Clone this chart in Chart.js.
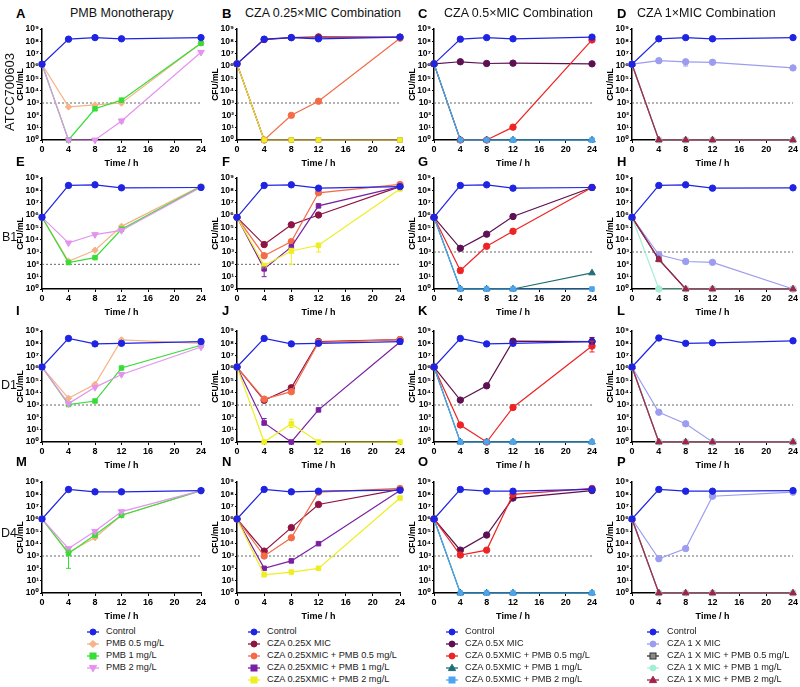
<!DOCTYPE html>
<html><head><meta charset="utf-8">
<script src="https://cdn.jsdelivr.net/npm/chart.js@4.4.0/dist/chart.umd.min.js"></script>
<style>
body{margin:0;background:#fff;width:800px;height:687px;position:relative;overflow:hidden;font-family:"Liberation Sans",Arial,sans-serif;}
.t{position:absolute;white-space:nowrap;color:#111;transform:translateY(-50%);line-height:1;}
canvas{position:absolute;}
svg{position:absolute;overflow:visible;}
</style></head><body>
<script>
// ---------- categories / labels ----------
const times = [0, 4, 8, 12, 24];
const xTicks = [0, 4, 8, 12, 16, 20, 24];
const yTicks = [1, 10, 100, 1e3, 1e4, 1e5, 1e6, 1e7, 1e8, 1e9];
const yTickLabels = ['10⁰','10¹','10²','10³','10⁴','10⁵','10⁶','10⁷','10⁸','10⁹'];
const rowLabels = ['ATCC700603', 'B1', 'D1', 'D4'];
const colTitles = ['PMB Monotherapy', 'CZA 0.25×MIC Combination', 'CZA 0.5×MIC Combination', 'CZA 1×MIC Combination'];
const panelLetters = ['A','B','C','D','E','F','G','H','I','J','K','L','M','N','O','P'];
const legendA = ['Control', 'PMB 0.5 mg/L', 'PMB 1 mg/L', 'PMB 2 mg/L'];
const legendB = ['Control', 'CZA 0.25X MIC', 'CZA 0.25XMIC + PMB 0.5 mg/L', 'CZA 0.25XMIC + PMB 1 mg/L', 'CZA 0.25XMIC + PMB 2 mg/L'];
const legendC = ['Control', 'CZA 0.5X MIC', 'CZA 0.5XMIC + PMB 0.5 mg/L', 'CZA 0.5XMIC + PMB 1 mg/L', 'CZA 0.5XMIC + PMB 2 mg/L'];
const legendD = ['Control', 'CZA 1 X MIC', 'CZA 1 X MIC + PMB 0.5 mg/L', 'CZA 1 X MIC + PMB 1 mg/L', 'CZA 1 X MIC + PMB 2 mg/L'];
const lodTop = [1e3, 1e3, 1e3, 1e3];
const lodRow2 = [1e2, 1e2, 1e3, 1e3];

// ---------- Row 1: ATCC700603 ----------
const A_ctrl  = [1.4e6, 1.5e8, 2e8, 1.6e8, 2e8];
const A_pmb05 = [1.4e6, 480, 700, 1000, 7e7];
const A_pmb1  = [1.4e6, 1, 340, 1.7e3, 7e7];
const A_pmb2  = [1.4e6, 1, 1, 35, 1.3e7];
const A_pmb2_err = [null, null, null, [25, 50], null];

const B_ctrl  = [1.5e6, 1.5e8, 2e8, 1.6e8, 2.2e8];
const B_cza   = [1.5e6, 1.4e8, 2e8, 2.3e8, 2.2e8];
const B_p05   = [1.5e6, 1, 100, 1.4e3, 1.8e8];
const B_p1    = [1.5e6, 1, 1, 1, 1];
const B_p2    = [1.5e6, 1, 1, 1, 1];

const C_ctrl  = [1.5e6, 1.5e8, 2e8, 1.6e8, 2.2e8];
const C_cza   = [1.5e6, 2.2e6, 1.6e6, 1.7e6, 1.5e6];
const C_p05   = [1.5e6, 1, 1, 11, 1.3e8];
const C_p1    = [1.5e6, 1, 1, 1, 1];
const C_p2    = [1.5e6, 1, 1, 1, 1];

const D_ctrl  = [1.4e6, 1.6e8, 2e8, 1.6e8, 2e8];
const D_cza   = [1.4e6, 2.7e6, 2.2e6, 2e6, 7e5];
const D_cza_err = [null, null, [1e6, 3e6], null, null];
const D_p05   = [1.4e6, 1, 1, 1, 1];
const D_p1    = [1.4e6, 1, 1, 1, 1];
const D_p2    = [1.4e6, 1, 1, 1, 1];

// ---------- Row 2: B1 ----------
const E_ctrl  = [6.5e5, 2.5e8, 2.8e8, 1.6e8, 1.7e8];
const E_pmb05 = [6.5e5, 180, 1.4e3, 1.2e5, 2.2e8];
const E_pmb1  = [6.5e5, 140, 350, 7e4, 2e8];
const E_pmb2  = [6.5e5, 5.5e3, 2.6e4, 5.6e4, 1.8e8];

const F_ctrl  = [6.5e5, 2.5e8, 2.8e8, 1.5e8, 2e8];
const F_cza   = [6.5e5, 4e3, 1.6e5, 1e6, 2e8];
const F_p05   = [6.5e5, 500, 7e3, 6.3e7, 3e8];
const F_p1    = [6.5e5, 43, 2.6e3, 5.5e6, 2e8];
const F_p1_err = [null, [10, 60], null, null, null];
const F_p2    = [6.5e5, 80, 1.2e3, 3.5e3, 1.3e8];
const F_p2_err = [null, null, [100, 2e3], [1e3, 5e3], null];

const G_ctrl  = [6.5e5, 2.5e8, 2.8e8, 1.5e8, 1.7e8];
const G_cza   = [6.5e5, 2e3, 2.8e4, 7.5e5, 1.7e8];
const G_p05   = [6.5e5, 32, 2.9e3, 4.8e4, 1.7e8];
const G_p05_err = [null, [20, 45], null, null, null];
const G_p1    = [6.5e5, 1, 1, 1, 20];
const G_p2    = [6.5e5, 1, 1, 1, 1];

const H_ctrl  = [6.5e5, 2.5e8, 2.8e8, 1.5e8, 1.6e8];
const H_cza   = [6.5e5, 600, 170, 145, 1];
const H_p05   = [6.5e5, 250, 1, 1, 1];
const H_p1    = [6.5e5, 1, 1, 1, 1];
const H_p2    = [6.5e5, 250, 1, 1, 1];

// ---------- Row 3: D1 ----------
const I_ctrl  = [1.2e6, 2.5e8, 9e7, 1e8, 1.4e8];
const I_pmb05 = [1.2e6, 3.5e3, 4.7e4, 1.9e8, 1e8];
const I_pmb1  = [1.2e6, 1.1e3, 2.1e3, 1e6, 7e7];
const I_pmb2  = [1.2e6, 1.3e3, 2.7e4, 3e5, 5e7];

const J_ctrl  = [1.2e6, 2.5e8, 9e7, 1e8, 1.4e8];
const J_cza   = [1.2e6, 2.4e3, 2.5e4, 1.4e8, 2e8];
const J_p05   = [1.2e6, 3e3, 1.2e4, 1.2e8, 2e8];
const J_p1    = [1.2e6, 35, 1, 400, 1.3e8];
const J_p1_err = [null, [25, 80], null, null, null];
const J_p2    = [1.2e6, 1, 30, 1, 1];
const J_p2_err = [null, null, [15, 70], null, null];

const K_ctrl  = [1.2e6, 2.5e8, 9e7, 1e8, 1.4e8];
const K_cza   = [1.2e6, 2.5e3, 3.6e4, 1.5e8, 1.4e8];
const K_cza_err = [null, null, null, [1e8, 2e8], [1e8, 3e8]];
const K_p05   = [1.2e6, 24, 1, 630, 6e7];
const K_p05_err = [null, null, null, null, [2e7, 1.5e8]];
const K_p1    = [1.2e6, 1, 1, 1, 1];
const K_p2    = [1.2e6, 1, 1, 1, 1];

const L_ctrl  = [1.2e6, 2.7e8, 1e8, 1.1e8, 1.6e8];
const L_cza   = [1.2e6, 260, 30, 1, 1];
const L_p05   = [1.2e6, 1, 1, 1, 1];
const L_p1    = [1.2e6, 1, 1, 1, 1];
const L_p2    = [1.2e6, 1, 1, 1, 1];

// ---------- Row 4: D4 ----------
const M_ctrl  = [1e6, 2.5e8, 1.6e8, 1.6e8, 2e8];
const M_pmb05 = [1e6, 2e3, 3e4, 2e6, 2e8];
const M_pmb1  = [1e6, 1.6e3, 5e4, 2e6, 2e8];
const M_pmb1_err = [null, [100, 3e3], null, null, null];
const M_pmb2  = [1e6, 4e3, 1e5, 4e6, 2e8];

const N_ctrl  = [1e6, 2.5e8, 1.6e8, 1.8e8, 2.2e8];
const N_cza   = [1e6, 2.5e3, 2e5, 1.5e7, 2.5e8];
const N_p05   = [1e6, 1e3, 3e4, 1.5e8, 3e8];
const N_p1    = [1e6, 100, 400, 1e4, 2e8];
const N_p2    = [1e6, 30, 50, 100, 5e7];

const O_ctrl  = [1e6, 2.5e8, 1.8e8, 1.8e8, 2.5e8];
const O_cza   = [1e6, 3e3, 5e4, 5e7, 2e8];
const O_p05   = [1e6, 1.2e3, 3e3, 1e8, 3e8];
const O_p1    = [1e6, 1, 1, 1, 1];
const O_p2    = [1e6, 1, 1, 1, 1];

const P_ctrl  = [1e6, 2.5e8, 1.8e8, 1.8e8, 2e8];
const P_cza   = [1e6, 600, 4e3, 7e7, 1.5e8];
const P_p05   = [1e6, 1, 1, 1, 1];
const P_p1    = [1e6, 1, 1, 1, 1];
const P_p2    = [1e6, 1, 1, 1, 1];

// ---------- styles ----------
const FF = "'Liberation Sans', Arial, 'DejaVu Sans', sans-serif";
const styles = {
  ctrl:      {color:'#1f24e3', shape:'circle'},
  pmb05:     {color:'#f6b386', shape:'rectRot'},
  pmb1:      {color:'#36dd36', shape:'rect'},
  pmb2:      {color:'#e393ef', shape:'triangle', rot:180},
  cza025:    {color:'#8e1444', shape:'circle'},
  cza025p05: {color:'#f36b47', shape:'circle'},
  cza025p1:  {color:'#7b1fa2', shape:'rect'},
  cza025p2:  {color:'#eeee22', shape:'rect'},
  cza05:     {color:'#5d1152', shape:'circle'},
  cza05p05:  {color:'#ee2424', shape:'circle'},
  cza05p1:   {color:'#1f6e76', shape:'triangle'},
  cza05p2:   {color:'#4da4ee', shape:'rect'},
  cza1:      {color:'#9c9cf0', shape:'circle'},
  cza1p05:   {color:'#333333', fill:'#8a8a8a', shape:'rect'},
  cza1p1:    {color:'#a4eed6', shape:'circle'},
  cza1p2:    {color:'#a2224e', shape:'triangle'}
};
const colKeys = [
  ['ctrl','pmb05','pmb1','pmb2'],
  ['ctrl','cza025','cza025p05','cza025p1','cza025p2'],
  ['ctrl','cza05','cza05p05','cza05p1','cza05p2'],
  ['ctrl','cza1','cza1p05','cza1p1','cza1p2']
];
const panelSeries = [
  [[A_ctrl],[A_pmb05],[A_pmb1],[A_pmb2,A_pmb2_err]],
  [[B_ctrl],[B_cza],[B_p05],[B_p1],[B_p2]],
  [[C_ctrl],[C_cza],[C_p05],[C_p1],[C_p2]],
  [[D_ctrl],[D_cza,D_cza_err],[D_p05],[D_p1],[D_p2]],
  [[E_ctrl],[E_pmb05],[E_pmb1],[E_pmb2]],
  [[F_ctrl],[F_cza],[F_p05],[F_p1,F_p1_err],[F_p2,F_p2_err]],
  [[G_ctrl],[G_cza],[G_p05,G_p05_err],[G_p1],[G_p2]],
  [[H_ctrl],[H_cza],[H_p05],[H_p1],[H_p2]],
  [[I_ctrl],[I_pmb05],[I_pmb1],[I_pmb2]],
  [[J_ctrl],[J_cza],[J_p05],[J_p1,J_p1_err],[J_p2,J_p2_err]],
  [[K_ctrl],[K_cza,K_cza_err],[K_p05,K_p05_err],[K_p1],[K_p2]],
  [[L_ctrl],[L_cza],[L_p05],[L_p1],[L_p2]],
  [[M_ctrl],[M_pmb05],[M_pmb1,M_pmb1_err],[M_pmb2]],
  [[N_ctrl],[N_cza],[N_p05],[N_p1],[N_p2]],
  [[O_ctrl],[O_cza],[O_p05],[O_p1],[O_p2]],
  [[P_ctrl],[P_cza],[P_p05],[P_p1],[P_p2]]
];
const lods = [lodTop, lodRow2, lodTop, lodTop];

// ---------- layout ----------
const colX = [[42,201],[237,400],[434,592],[632,793]];
const rowY = [[29,140],[178,289],[331,442],[482,593]];
const W = 26, H = 29, PT = 8, PR = 10;

const errPlugin = {
  id: 'errbars',
  afterDatasetsDraw(chart) {
    const ctx = chart.ctx, xs = chart.scales.x, ys = chart.scales.y;
    chart.data.datasets.forEach(ds => {
      if (!ds.errs) return;
      ctx.save();
      ctx.strokeStyle = ds.borderColor; ctx.lineWidth = 1;
      ds.errs.forEach((e, i) => {
        if (!e) return;
        const px = xs.getPixelForValue(ds.data[i].x);
        const y0 = ys.getPixelForValue(e[0]), y1 = ys.getPixelForValue(e[1]);
        ctx.beginPath();
        ctx.moveTo(px, y0); ctx.lineTo(px, y1);
        ctx.moveTo(px-2.5, y0); ctx.lineTo(px+2.5, y0);
        ctx.moveTo(px-2.5, y1); ctx.lineTo(px+2.5, y1);
        ctx.stroke();
      });
      ctx.restore();
    });
  }
};

function mkDs(key, arr, err, idx, n) {
  const st = styles[key];
  return {
    data: times.map((t, i) => ({x: t, y: arr[i]})),
    borderColor: st.color,
    backgroundColor: st.fill || st.color,
    pointBackgroundColor: st.fill || st.color,
    pointBorderColor: st.color,
    pointStyle: st.shape,
    pointRotation: st.rot || 0,
    pointRadius: st.shape === 'triangle' ? 3.8 : 3.2,
    pointBorderWidth: 1,
    borderWidth: 1.2,
    tension: 0,
    clip: false,
    order: idx === 0 ? 0 : (n - idx),
    errs: err || null
  };
}

panelSeries.forEach((series, p) => {
  const r = Math.floor(p / 4), c = p % 4;
  const [x0, x1] = colX[c], [y0, y1] = rowY[r];
  const cw = W + (x1 - x0) + PR, ch = PT + (y1 - y0) + H;
  const cv = document.createElement('canvas');
  cv.width = cw; cv.height = ch;
  cv.style.left = (x0 - W) + 'px'; cv.style.top = (y0 - PT) + 'px';
  cv.style.width = cw + 'px'; cv.style.height = ch + 'px';
  document.body.appendChild(cv);
  const n = series.length;
  const datasets = series.map((s, i) => mkDs(colKeys[c][i], s[0], s[1], i, n));
  const lod = lods[r][c];
  datasets.push({data: [{x: 0, y: lod}, {x: 24, y: lod}], borderColor: '#666', borderWidth: 1,
    borderDash: [2, 2], pointRadius: 0, order: 100, clip: false});
  new Chart(cv, {
    type: 'line',
    data: {datasets},
    options: {
      responsive: false, animation: false, devicePixelRatio: 1,
      layout: {padding: {left: 0, top: PT, right: PR, bottom: 0}},
      plugins: {legend: {display: false}, tooltip: {enabled: false}},
      scales: {
        x: {
          type: 'linear', min: 0, max: 24,
          afterBuildTicks: s => { s.ticks = xTicks.map(v => ({value: v})); },
          afterFit: s => { s.height = H; },
          ticks: {font: {size: 9, weight: 'bold', family: FF}, color: '#000', padding: 1, maxRotation: 0,
                  autoSkip: false, callback: v => String(v)},
          grid: {drawOnChartArea: false, drawTicks: true, tickLength: 3, color: '#000', lineWidth: 1},
          border: {color: '#000', width: 1.5},
          title: {display: true, text: 'Time / h', font: {size: 9, weight: 'bold', family: FF}, color: '#000', padding: 0}
        },
        y: {
          type: 'logarithmic', min: 1, max: 1e9,
          afterBuildTicks: s => { s.ticks = yTicks.map(v => ({value: v})); },
          afterFit: s => { s.width = W; },
          ticks: {font: {size: 8.5, weight: 'bold', family: FF}, color: '#000', padding: 1, autoSkip: false,
                  callback: v => yTickLabels[Math.round(Math.log10(v))]},
          grid: {drawOnChartArea: false, drawTicks: true, tickLength: 2, color: '#000', lineWidth: 1},
          border: {color: '#000', width: 1.5},
          title: {display: true, text: 'CFU/mL', font: {size: 8.5, weight: 'bold', family: FF}, color: '#000', padding: 0}
        }
      }
    },
    plugins: [errPlugin]
  });
});

// ---------- HTML text ----------
function txt(s, x, y, css) {
  const d = document.createElement('div');
  d.className = 't'; d.textContent = s;
  d.style.left = x + 'px'; d.style.top = y + 'px';
  d.style.cssText += css || '';
  document.body.appendChild(d);
  return d;
}
const letterX = [16, 222, 418, 617];
const letterY = [13, 161, 310, 461];
panelLetters.forEach((L, p) => {
  txt(L, letterX[p % 4], letterY[Math.floor(p / 4)], 'font-weight:bold;font-size:13px;color:#000;');
});
const titleX = [70, 245, 444, 637];
colTitles.forEach((s, c) => txt(s, titleX[c], 13, 'font-size:12.5px;color:#111;'));
// row labels
const rl = txt(rowLabels[0], 9, 92, 'font-size:13px;color:#111;');
rl.style.transform = 'translate(-50%,-50%) rotate(-90deg)';
txt(rowLabels[1], 2, 237, 'font-size:12.5px;color:#111;');
txt(rowLabels[2], 1, 385, 'font-size:12.5px;color:#111;');
txt(rowLabels[3], 1, 533, 'font-size:12.5px;color:#111;');

// ---------- legends ----------
function marker(shape, color, fill, rot, cx, cy) {
  const f = fill || color;
  if (shape === 'circle') return `<circle cx="${cx}" cy="${cy}" r="3" fill="${f}" stroke="${color}"/>`;
  if (shape === 'rect') return `<rect x="${cx-3}" y="${cy-3}" width="6" height="6" fill="${f}" stroke="${color}"/>`;
  if (shape === 'rectRot') return `<polygon points="${cx},${cy-3.6} ${cx+3.6},${cy} ${cx},${cy+3.6} ${cx-3.6},${cy}" fill="${f}" stroke="${color}"/>`;
  if (shape === 'triangle') {
    const s = rot ? -1 : 1;
    return `<polygon points="${cx},${cy-3.8*s} ${cx+3.6},${cy+2.6*s} ${cx-3.6},${cy+2.6*s}" fill="${f}" stroke="${color}"/>`;
  }
  return '';
}
const legends = [legendA, legendB, legendC, legendD];
const legSymX = [87, 248, 446, 647];
const legTextX = [106, 267, 465, 667];
const legY0 = 632, legDY = 12;
legends.forEach((items, c) => {
  items.forEach((s, i) => {
    const st = styles[colKeys[c][i]];
    const y = legY0 + i * legDY;
    const svg = document.createElementNS('http://www.w3.org/2000/svg', 'svg');
    svg.setAttribute('width', '14'); svg.setAttribute('height', '10');
    svg.style.left = legSymX[c] + 'px'; svg.style.top = (y - 5) + 'px';
    svg.innerHTML = `<line x1="0" y1="5" x2="12" y2="5" stroke="${st.color}" stroke-width="1.3"/>` +
      marker(st.shape, st.color, st.fill, st.rot, 6, 5);
    document.body.appendChild(svg);
    txt(s, legTextX[c], y, 'font-size:9.2px;color:#222;');
  });
});
</script>
</body></html>
